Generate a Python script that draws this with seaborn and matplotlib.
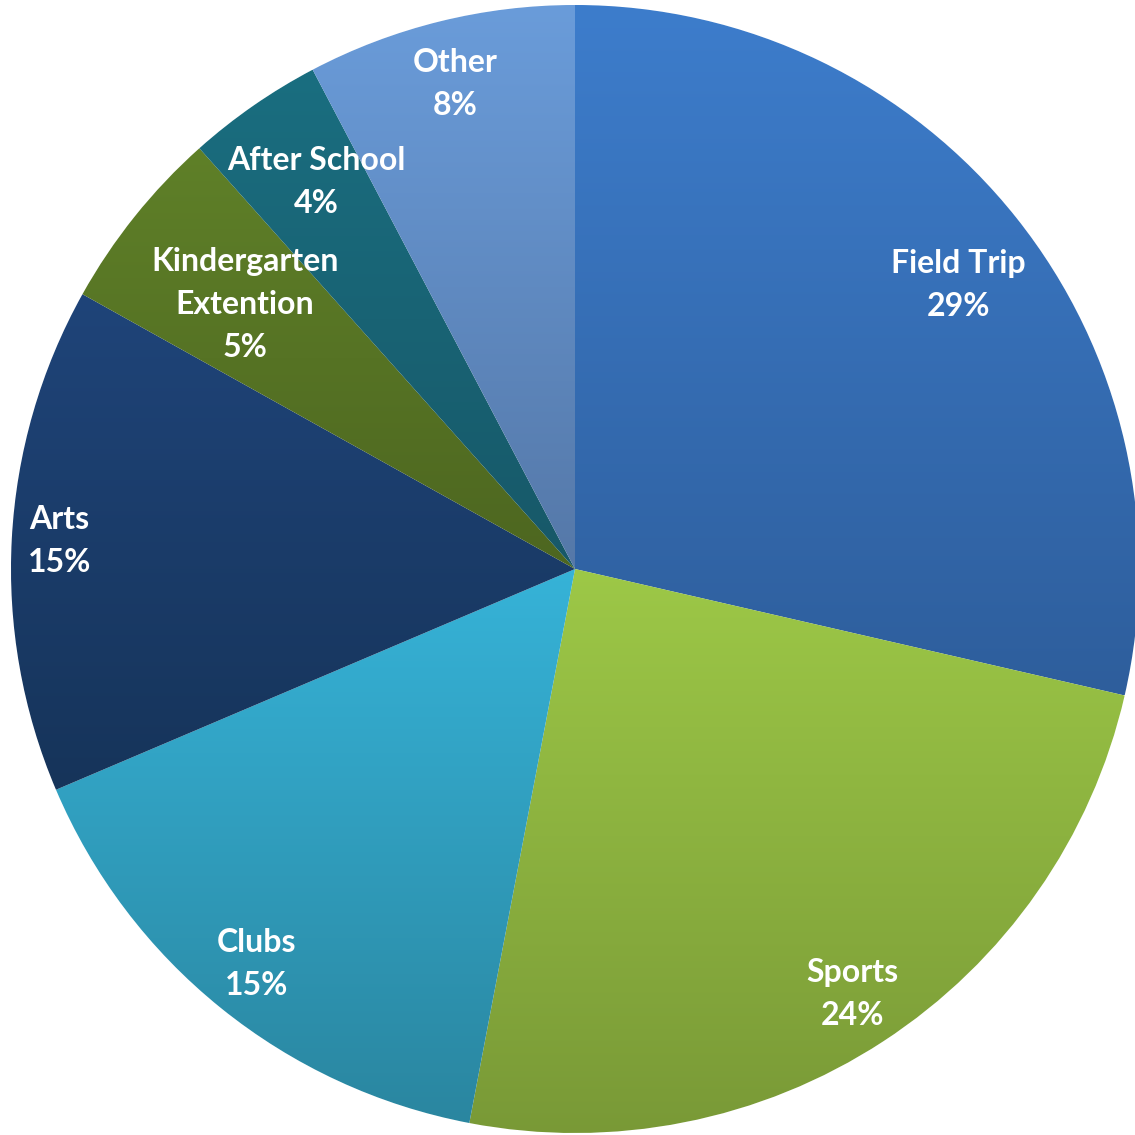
import numpy as np
import seaborn as sns
import matplotlib.pyplot as plt
from matplotlib.colors import to_rgb

# datos del grafico (porcentajes)
categories = ['Field Trip', 'Sports', 'Clubs', 'Arts',
              'Kindergarten\nExtention', 'After School', 'Other']
values = [28.6, 24.4, 15.6, 14.5, 5.3, 3.9, 7.7]
pct_labels = ['29%', '24%', '15%', '15%', '5%', '4%', '8%']

# colores arriba / abajo de cada porcion (degradado vertical)
top_colors = ['#3d7dcc', '#9dc847', '#36b3d8', '#1f4479',
              '#5f8028', '#1a6e80', '#6a9cda']
bottom_colors = ['#2e5e9c', '#789836', '#2a86a0', '#16345a',
                 '#4d6620', '#175868', '#5578a8']

sns.set_style('white')
plt.rcParams['font.family'] = ['Lato', 'DejaVu Sans']

fig = plt.figure(figsize=(11.35, 11.35), dpi=100)
ax = fig.add_axes([0, 0, 1, 1])

wedges, _ = ax.pie(values, colors=top_colors, startangle=90,
                   counterclock=False, radius=1.0)

# degradado dentro de cada porcion
for w, c1, c2 in zip(wedges, top_colors, bottom_colors):
    verts = w.get_path().vertices
    x0, x1 = verts[:, 0].min(), verts[:, 0].max()
    y0, y1 = verts[:, 1].min(), verts[:, 1].max()
    t = np.linspace(0, 1, 256)[:, None]
    a = np.array(to_rgb(c1))
    b = np.array(to_rgb(c2))
    grad = (1 - t) * a + t * b
    grad = np.repeat(grad[:, None, :], 2, axis=1)
    im = ax.imshow(grad, extent=(x0, x1, y0, y1), origin='upper',
                   aspect='auto', interpolation='bilinear', zorder=2)
    im.set_clip_path(w)

# etiquetas en el angulo medio de cada porcion
label_r = [0.845, 0.9, 0.9, 0.915, 0.75, 0.825, 0.885]
label_da = [-2.0, 0, 0, 0, 0, -1.0, 0]
for w, cat, pct, r, da in zip(wedges, categories, pct_labels, label_r, label_da):
    ang = np.deg2rad((w.theta1 + w.theta2) / 2 + da)
    ax.text(r * np.cos(ang), r * np.sin(ang), cat + '\n' + pct,
            ha='center', va='center', color='white', fontsize=23,
            fontweight='bold', linespacing=1.58, zorder=5)

R = 564.0
ax.set_xlim(-575 / R, 560 / R)
ax.set_ylim(-566 / R, 569 / R)
ax.set_aspect('equal')
ax.axis('off')

plt.savefig('out.png', dpi=100)
